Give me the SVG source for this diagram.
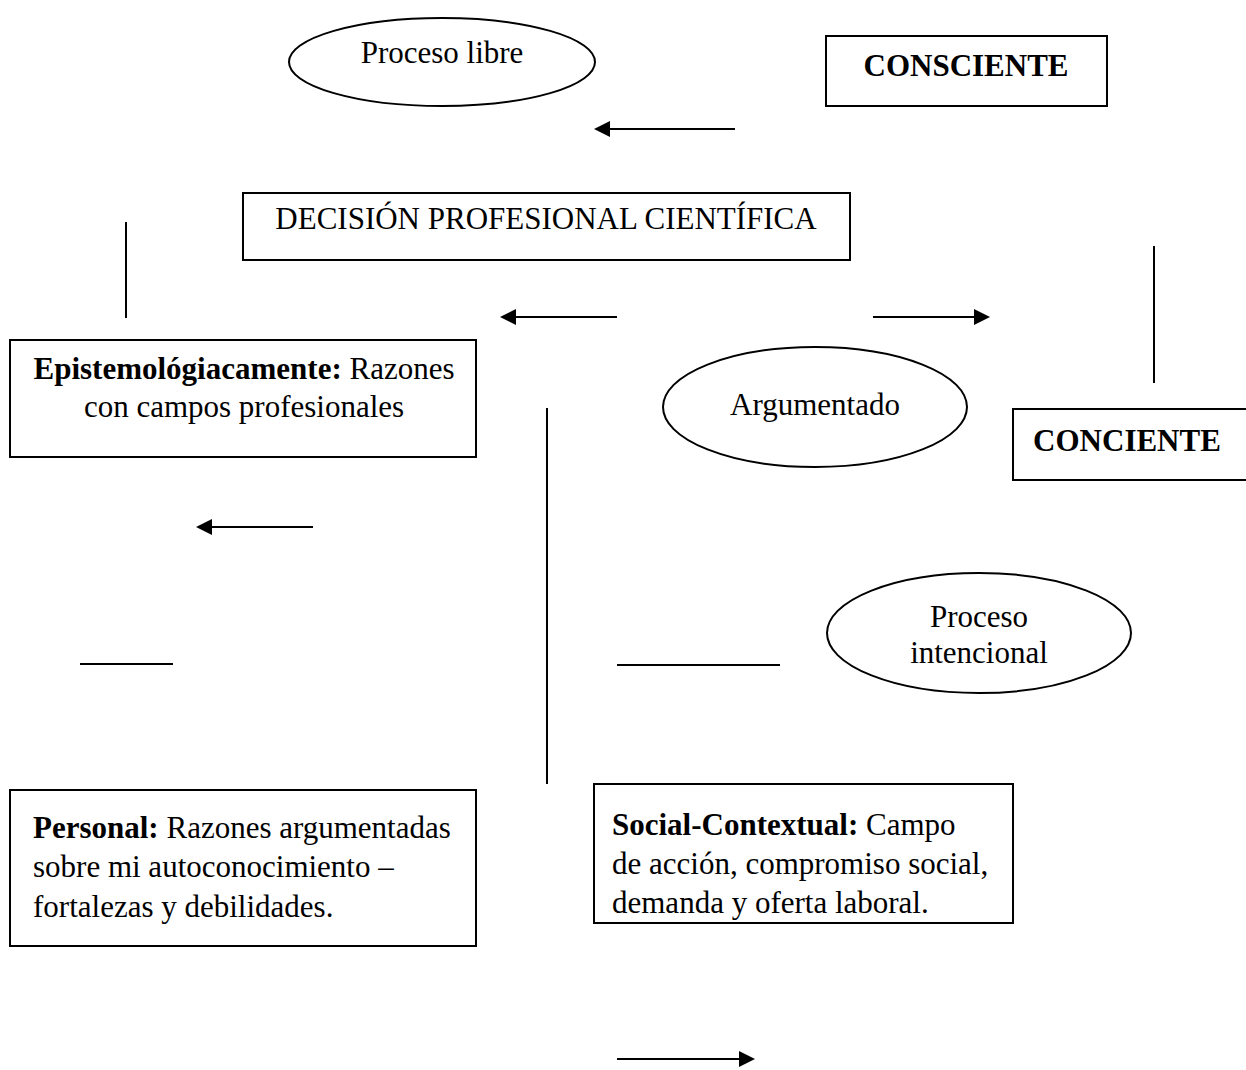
<svg xmlns="http://www.w3.org/2000/svg" width="1246" height="1070" viewBox="0 0 1246 1070">
<style>
.s{fill:#fff;stroke:#000;stroke-width:2}
.t{font-family:"Liberation Serif",serif;font-size:31px;fill:#000}
.c{text-anchor:middle}
.b{font-weight:bold}
.l{stroke:#000;stroke-width:2;fill:none}
</style>
<defs>
<marker id="ah" markerWidth="8" markerHeight="8" refX="7" refY="4" orient="auto" markerUnits="strokeWidth">
<path d="M0,0 L8,4 L0,8 Z" fill="#000"/>
</marker>
</defs>
<rect width="1246" height="1070" fill="#fff"/>
<g id="proceso-libre"><ellipse class="s" cx="442" cy="62" rx="153" ry="44"/><text class="t c" x="442" y="63">Proceso libre</text></g>
<g id="consciente"><rect class="s" x="826" y="36" width="281" height="70"/><text class="t c b" x="966" y="76">CONSCIENTE</text></g>
<g id="decision"><rect class="s" x="243" y="193" width="607" height="67"/><text class="t c" x="546" y="229">DECISIÓN PROFESIONAL CIENTÍFICA</text></g>
<g id="epistemo"><rect class="s" x="10" y="340" width="466" height="117"/><text class="t c" x="244" y="379"><tspan class="b">Epistemológiacamente:</tspan> Razones</text><text class="t c" x="244" y="417">con campos profesionales</text></g>
<g id="argumentado"><ellipse class="s" cx="815" cy="407" rx="152" ry="60"/><text class="t c" x="815" y="415">Argumentado</text></g>
<g id="conciente"><rect class="s" x="1013" y="409" width="240" height="71"/><text class="t c b" x="1127" y="451">CONCIENTE</text></g>
<g id="proceso-intencional"><ellipse class="s" cx="979" cy="633" rx="152" ry="60"/><text class="t c" x="979" y="627">Proceso</text><text class="t c" x="979" y="663">intencional</text></g>
<g id="personal"><rect class="s" x="10" y="790" width="466" height="156"/><text class="t" x="33" y="838"><tspan class="b">Personal:</tspan> Razones argumentadas</text><text class="t" x="33" y="877">sobre mi autoconocimiento –</text><text class="t" x="33" y="917">fortalezas y debilidades.</text></g>
<g id="social"><rect class="s" x="594" y="784" width="419" height="139"/><text class="t" x="612" y="835"><tspan class="b">Social-Contextual:</tspan> Campo</text><text class="t" x="612" y="874">de acción, compromiso social,</text><text class="t" x="612" y="913">demanda y oferta laboral.</text></g>
<g id="connectors">
<line class="l" x1="735" y1="129" x2="596" y2="129" marker-end="url(#ah)"/>
<line class="l" x1="126" y1="222" x2="126" y2="318"/>
<line class="l" x1="617" y1="317" x2="502" y2="317" marker-end="url(#ah)"/>
<line class="l" x1="873" y1="317" x2="988" y2="317" marker-end="url(#ah)"/>
<line class="l" x1="1154" y1="246" x2="1154" y2="383"/>
<line class="l" x1="547" y1="408" x2="547" y2="784"/>
<line class="l" x1="313" y1="527" x2="198" y2="527" marker-end="url(#ah)"/>
<line class="l" x1="80" y1="664" x2="173" y2="664"/>
<line class="l" x1="617" y1="665" x2="780" y2="665"/>
<line class="l" x1="617" y1="1059" x2="753" y2="1059" marker-end="url(#ah)"/>
</g>
</svg>
